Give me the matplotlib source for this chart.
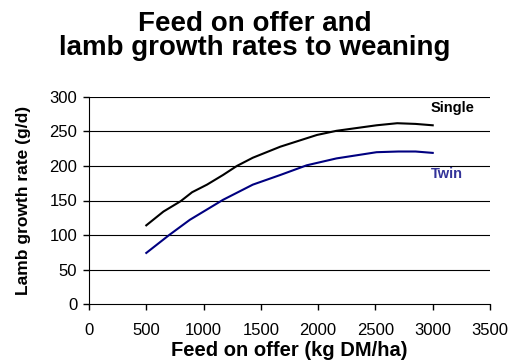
import matplotlib
matplotlib.use('Agg')
import matplotlib.pyplot as plt

# Feed on offer (kg DM/ha) vs lamb growth rate (g/d)
single_x = [500, 650, 800, 900, 1030, 1170, 1290, 1430, 1670, 1990, 2160, 2510, 2690, 2850, 3000]
single_y = [114, 134, 149, 162, 173, 187, 200, 212, 228, 245, 251, 259, 262, 261, 259]
twin_x = [500, 700, 880, 1170, 1430, 1670, 1900, 2160, 2510, 2700, 2850, 3000]
twin_y = [74, 100, 122, 151, 173, 187, 201, 211, 220, 221, 221, 219]

X_TICKS = [0, 500, 1000, 1500, 2000, 2500, 3000, 3500]
Y_TICKS = [0, 50, 100, 150, 200, 250, 300]

plt.rcParams['font.family'] = ['Liberation Sans', 'DejaVu Sans']

fig = plt.figure(figsize=(5.10, 3.63), dpi=100)
fig.patch.set_facecolor('white')
ax = fig.add_axes([89 / 510, 1 - 304 / 363, 401 / 510, 207 / 363])

for y in Y_TICKS[1:]:
    ax.axhline(y, color='black', lw=0.8, zorder=1)

ax.plot(single_x, single_y, color='black', lw=1.5, zorder=3)
ax.plot(twin_x, twin_y, color='#000080', lw=1.5, zorder=3)

ax.text(2985, 284, 'Single', fontsize=10.5, fontweight='bold', color='black',
        ha='left', va='center')
ax.text(2985, 188, 'Twin', fontsize=10.5, fontweight='bold', color='#333399',
        ha='left', va='center')

ax.set_xlim(0, 3500)
ax.set_ylim(0, 300)
ax.set_xticks(X_TICKS)
ax.set_yticks(Y_TICKS)
ax.tick_params(axis='x', direction='out', length=4.5, width=1, pad=9, labelsize=12)
ax.tick_params(axis='y', direction='out', length=4.5, width=1, pad=4, labelsize=12)
ax.spines['top'].set_visible(False)
ax.spines['right'].set_visible(False)

ax.set_xlabel('Feed on offer (kg DM/ha)', fontsize=14.5, fontweight='bold', labelpad=2)
ax.set_ylabel('Lamb growth rate (g/d)', fontsize=12.5, fontweight='bold', labelpad=13)

fig.text(0.5, 1 - 55 / 363, 'Feed on offer and\nlamb growth rates to weaning',
         ha='center', va='baseline', fontsize=20, fontweight='bold',
         linespacing=0.9)

fig.savefig('out.png', dpi=100, facecolor='white')
